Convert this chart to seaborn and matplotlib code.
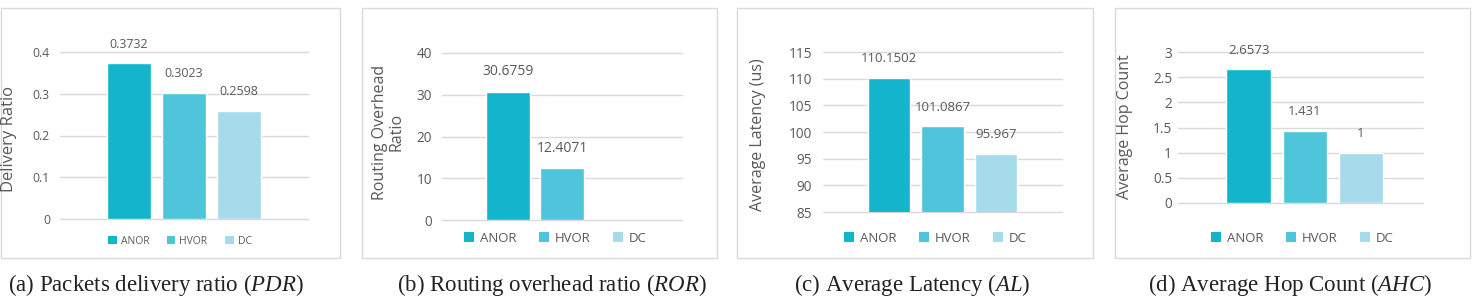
import matplotlib
matplotlib.use("Agg")
import matplotlib.pyplot as plt
import numpy as np
import pandas as pd
import seaborn as sns
from matplotlib.patches import Rectangle, Patch
from matplotlib.ticker import FuncFormatter

# ---------------- data ----------------
methods = ["ANOR", "HVOR", "DC"]
pdr = [0.3732, 0.3023, 0.2598]
ror = [30.6759, 12.4071, 0]
al = [110.1502, 101.0867, 95.967]
ahc = [2.6573, 1.431, 1]

pdr_ticks = [0, 0.1, 0.2, 0.3, 0.4]
ror_ticks = [0, 10, 20, 30, 40]
al_ticks = [85, 90, 95, 100, 105, 110, 115]
ahc_ticks = [0, 0.5, 1, 1.5, 2, 2.5, 3]

ylabels = ["Delivery Ratio", "Routing Overhead\nRatio", "Average Latency (us)", "Average Hop Count"]
captions = [
    "(a) Packets delivery ratio ($\\mathit{PDR}$)",
    "(b) Routing overhead ratio ($\\mathit{ROR}$)",
    "(c) Average Latency ($\\mathit{AL}$)",
    "(d) Average Hop Count ($\\mathit{AHC}$)",
]

colors = ["#12B5CB", "#4EC5DA", "#A5DBEA"]
text_gray = "#595959"

# ---------------- style ----------------
sns.set_theme(style="white")
plt.rcParams["font.family"] = ["Open Sans", "DejaVu Sans"]
plt.rcParams["mathtext.fontset"] = "custom"
plt.rcParams["mathtext.rm"] = "Liberation Serif"
plt.rcParams["mathtext.it"] = "Liberation Serif:italic"

W, H = 1475, 296
fig = plt.figure(figsize=(W / 100, H / 100), dpi=100)
fig.patch.set_facecolor("white")

fmt = lambda v: f"{v:.10g}"

# layout (pixels): box, axes, ylabel pos, legend pos, caption x, font sizes
panels = [
    dict(vals=pdr, ticks=pdr_ticks, box=(1, 8, 340, 258), ax=(60, 52, 308, 219),
         width=0.665, xoff=0.0, ylab=(9, 139), leg=(180, 241), cap=156,
         tick_fs=8.8, lab_fs=9, leg_fs=7.5, ylab_fs=12, pad=10),
    dict(vals=ror, ticks=ror_ticks, box=(362, 8, 717, 258), ax=(442, 53, 682, 220),
         width=0.675, xoff=0.0, ylab=(388, 132), leg=(555, 238), cap=552,
         tick_fs=9.8, lab_fs=10, leg_fs=9.5, ylab_fs=11.5, pad=10),
    dict(vals=al, ticks=al_ticks, box=(737, 8, 1093, 258), ax=(823, 52, 1062, 212),
         width=0.67, xoff=0.0, ylab=(758, 135), leg=(935, 238), cap=912,
         tick_fs=9.8, lab_fs=9.5, leg_fs=9.5, ylab_fs=11.5, pad=11),
    dict(vals=ahc, ticks=ahc_ticks, box=(1115, 8, 1470, 258), ax=(1178, 52, 1423, 203),
         width=0.686, xoff=-0.018, ylab=(1125, 127), leg=(1302, 238), cap=1290,
         tick_fs=9.8, lab_fs=9.5, leg_fs=9.5, ylab_fs=11.5, pad=6),
]

for i, p in enumerate(panels):
    bx0, by0, bx1, by1 = p["box"]
    fig.add_artist(Rectangle((bx0 / W, 1 - by1 / H), (bx1 - bx0) / W, (by1 - by0) / H,
                             transform=fig.transFigure, fill=False,
                             edgecolor="#D9D9D9", linewidth=1))
    x0, y0, x1, y1 = p["ax"]
    ax = fig.add_axes([x0 / W, 1 - y1 / H, (x1 - x0) / W, (y1 - y0) / H])
    ax.set_facecolor("none")

    df = pd.DataFrame({"grp": ["all"] * len(methods), "method": methods, "value": p["vals"]})
    sns.barplot(data=df, x="grp", y="value", hue="method", hue_order=methods,
                palette=colors, width=p["width"], gap=0.2, saturation=1,
                errorbar=None, legend=False, ax=ax)

    ax.set_xlim(-0.5 + p["xoff"], 0.5 + p["xoff"])
    ax.set_ylim(p["ticks"][0], p["ticks"][-1])
    ax.set_yticks(p["ticks"])
    ax.yaxis.set_major_formatter(FuncFormatter(lambda v, pos: fmt(v)))
    ax.set_xticks([])
    ax.set_xlabel("")
    ax.set_ylabel("")
    for s in ax.spines.values():
        s.set_visible(False)
    ax.grid(axis="y", color="#D9D9D9", linewidth=1)
    ax.set_axisbelow(True)
    for gl in ax.get_ygridlines():
        gl.set_clip_on(False)
    ax.tick_params(axis="y", length=0, pad=p["pad"] * 0.72,
                   labelcolor=text_gray, labelsize=p["tick_fs"])

    for cont, v in zip(ax.containers, p["vals"]):
        ax.bar_label(cont, labels=[fmt(v) if v != 0 else ""], padding=9,
                     color=text_gray, fontsize=p["lab_fs"])

    handles = [Patch(facecolor=c, edgecolor="none") for c in colors]
    lx, ly = p["leg"]
    ax.legend(handles, methods, loc="center", bbox_to_anchor=(lx / W, 1 - ly / H),
              bbox_transform=fig.transFigure, ncol=3, frameon=False,
              handlelength=0.8, handleheight=0.8, handletextpad=0.4,
              columnspacing=1.7, fontsize=p["leg_fs"], labelcolor=text_gray)

    yx, yy = p["ylab"]
    fig.text(yx / W, 1 - yy / H, ylabels[i], rotation=90, ha="center", va="center",
             color=text_gray, fontsize=p["ylab_fs"], linespacing=1.0)

    fig.text(p["cap"] / W, 5.5 / H, captions[i], ha="center", va="baseline",
             fontsize=16.5, family="Liberation Serif", color="#222222")

fig.savefig("out.png", dpi=100)
